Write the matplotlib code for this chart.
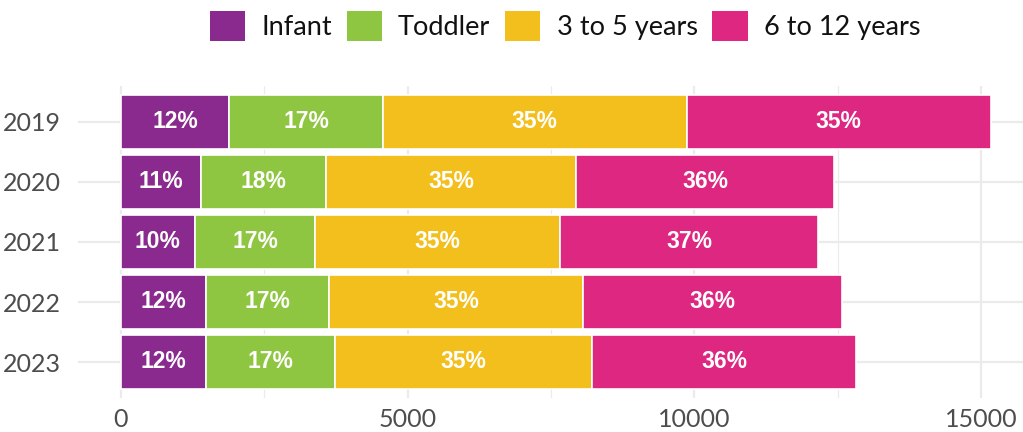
import matplotlib
matplotlib.use("Agg")
import matplotlib.pyplot as plt
from matplotlib.patches import Patch
import numpy as np

years = ['2019', '2020', '2021', '2022', '2023']
series_names = ['Infant', 'Toddler', '3 to 5 years', '6 to 12 years']
infant = [1890, 1387, 1285, 1488, 1486]
toddler = [2677, 2196, 2104, 2145, 2238]
preschool = [5297, 4362, 4268, 4434, 4500]
school_age = [5311, 4492, 4500, 4501, 4588]
pct_infant = ['12%', '11%', '10%', '12%', '12%']
pct_toddler = ['17%', '18%', '17%', '17%', '17%']
pct_preschool = ['35%', '35%', '35%', '35%', '35%']
pct_school = ['35%', '36%', '37%', '36%', '36%']
x_ticks = [0, 5000, 10000, 15000]

colors = ['#8A2A8E', '#8FC641', '#F2BF1D', '#DE2780']
series = [infant, toddler, preschool, school_age]
labels = [pct_infant, pct_toddler, pct_preschool, pct_school]

fig = plt.figure(figsize=(10.23, 4.32), dpi=100)
ax = fig.add_axes([78/1023, (432-398)/432, 945/1023, 312/432])

ypos = np.arange(len(years))[::-1]
left = np.zeros(len(years))
for vals, col, labs in zip(series, colors, labels):
    vals = np.array(vals, dtype=float)
    ax.barh(ypos, vals, left=left, height=0.9, color=col, edgecolor='white',
            linewidth=1.2, zorder=3)
    for y, l, v, t in zip(ypos, left, vals, labs):
        ax.text(l + v/2, y, t, ha='center', va='center', color='white',
                fontsize=16.5, fontweight='bold', family='Liberation Sans', zorder=4)
    left += vals

ax.set_xlim(-750, 15733)
ax.set_ylim(-0.6, len(years) - 0.4)
ax.set_yticks(ypos)
ax.set_yticklabels(years)
ax.set_xticks(x_ticks)
ax.set_xticks([2500, 7500, 12500], minor=True)
ax.tick_params(axis='both', which='both', length=0, colors='#4D4D4D', labelsize=18)
ax.tick_params(axis='y', pad=12)
ax.tick_params(axis='x', pad=7)
for lab in ax.get_xticklabels() + ax.get_yticklabels():
    lab.set_family('Lato')
    lab.set_fontweight('normal')
ax.grid(True, which='major', color='#EBEBEB', linewidth=1.6, zorder=0)
ax.grid(True, which='minor', axis='x', color='#EBEBEB', linewidth=0.9, zorder=0)
for s in ax.spines.values():
    s.set_visible(False)

handles = [Patch(facecolor=c, edgecolor='none') for c in colors]
leg = fig.legend(handles, series_names, loc='center', bbox_to_anchor=(565/1023, 1 - 26/432),
                 ncol=4, frameon=False, prop={'family': 'Lato', 'weight': 'normal', 'size': 19.5},
                 handlelength=1.3, handleheight=1.3, handletextpad=0.6, columnspacing=0.55,
                 borderaxespad=0, borderpad=0)
for t in leg.get_texts():
    t.set_color('#111111')

fig.savefig('out.png', dpi=100)
